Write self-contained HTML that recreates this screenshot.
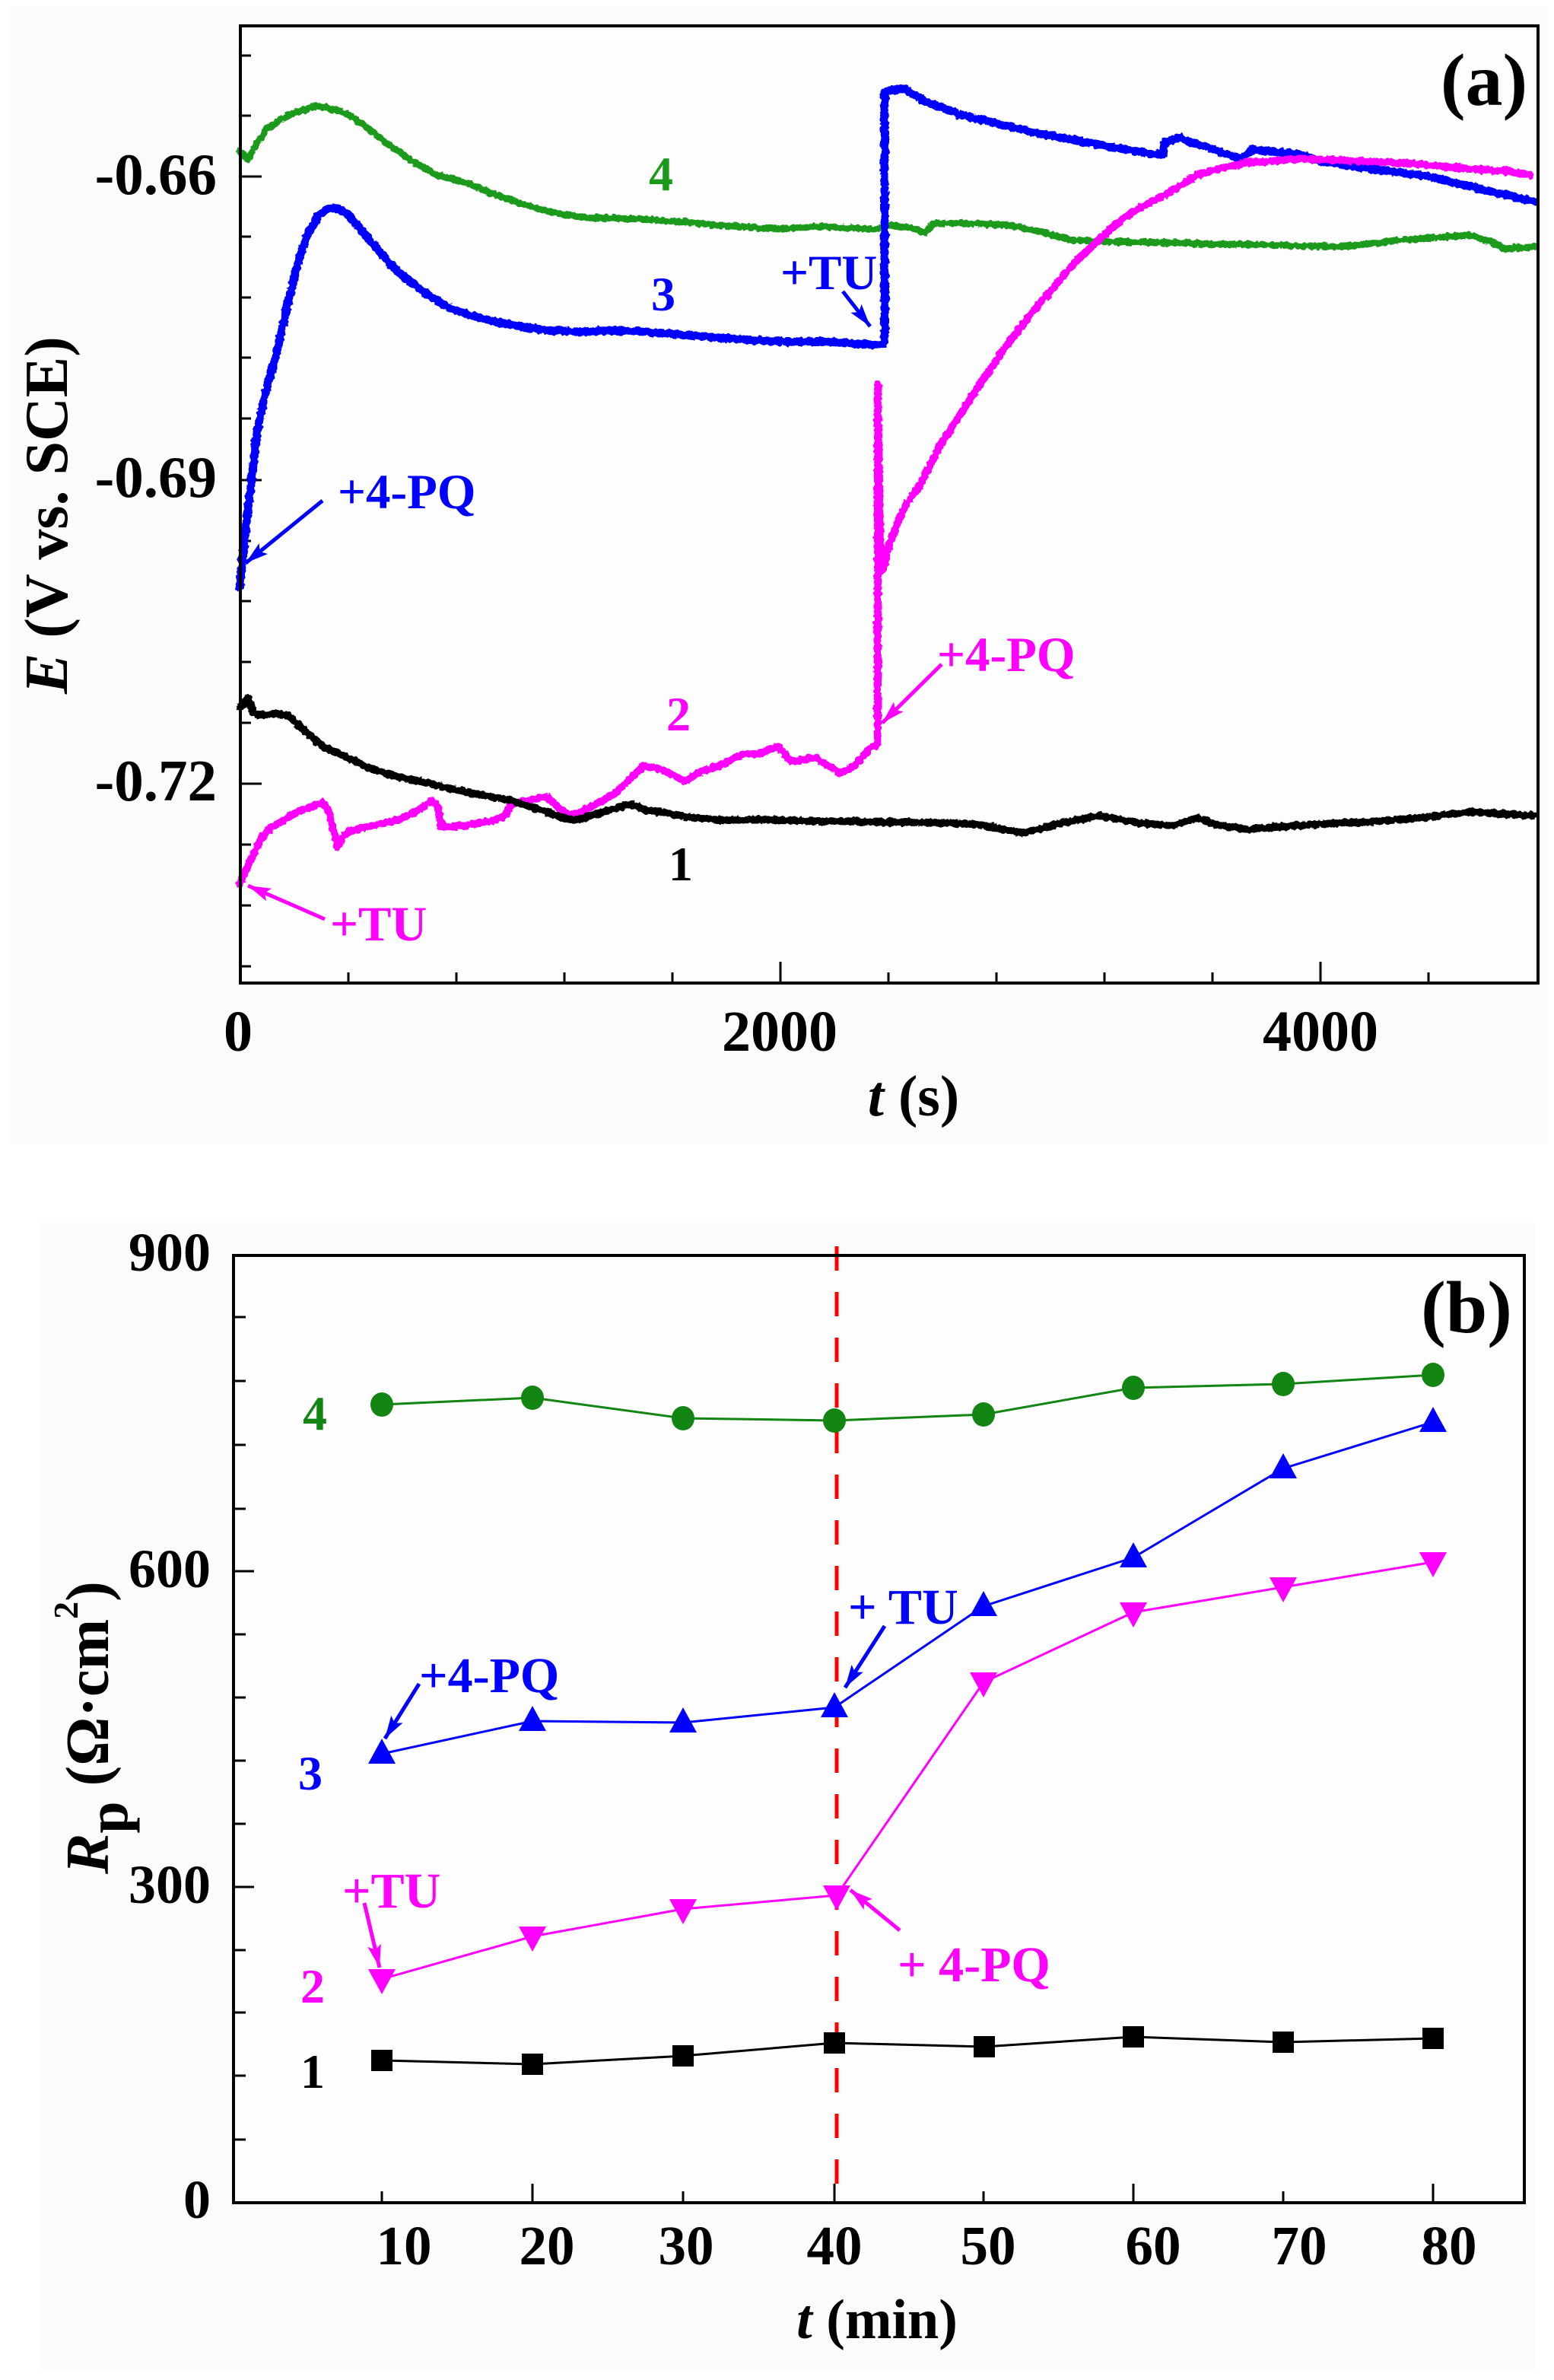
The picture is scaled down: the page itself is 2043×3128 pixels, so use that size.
<!DOCTYPE html>
<html><head><meta charset="utf-8">
<style>
html,body{margin:0;padding:0;background:#fff;}
svg{display:block;}
text{font-family:"Liberation Serif","DejaVu Serif",serif;font-weight:bold;}
</style></head>
<body>
<svg width="2043" height="3128" viewBox="0 0 2043 3128" xmlns="http://www.w3.org/2000/svg">
<defs>
<filter id="nz" filterUnits="userSpaceOnUse" x="0" y="0" width="2043" height="1400">
<feTurbulence type="fractalNoise" baseFrequency="0.18" numOctaves="2" seed="4" result="t"/>
<feDisplacementMap in="SourceGraphic" in2="t" scale="6" xChannelSelector="R" yChannelSelector="G"/>
</filter>
<marker id="ab" markerUnits="userSpaceOnUse" markerWidth="32" markerHeight="20" refX="30" refY="9" orient="auto"><path d="M0,0 L30,9 L0,18 L6,9 z" fill="#0000ff"/></marker>
<marker id="am" markerUnits="userSpaceOnUse" markerWidth="32" markerHeight="20" refX="30" refY="9" orient="auto"><path d="M0,0 L30,9 L0,18 L6,9 z" fill="#ff00ff"/></marker>
</defs>

<!-- backgrounds -->
<rect x="13" y="8" width="2022" height="1495" fill="#fbfbfc"/>
<rect x="52" y="1607" width="1966" height="1508" fill="#fbfbfc"/>
<rect x="316" y="34" width="1706" height="1258" fill="#fdfdfd"/>
<rect x="307" y="1650" width="1697" height="1245" fill="#fdfdfd"/>

<!-- ================= PANEL A ================= -->
<g stroke="#000" stroke-width="3">
<line x1="316" y1="232" x2="344" y2="232"/><line x1="316" y1="631" x2="344" y2="631"/><line x1="316" y1="1030" x2="344" y2="1030"/>
<line x1="316" y1="73" x2="330" y2="73"/><line x1="316" y1="152" x2="330" y2="152"/>
<line x1="316" y1="311" x2="330" y2="311"/><line x1="316" y1="391" x2="330" y2="391"/><line x1="316" y1="470" x2="330" y2="470"/><line x1="316" y1="550" x2="330" y2="550"/>
<line x1="316" y1="711" x2="330" y2="711"/><line x1="316" y1="790" x2="330" y2="790"/><line x1="316" y1="870" x2="330" y2="870"/><line x1="316" y1="950" x2="330" y2="950"/>
<line x1="316" y1="1110" x2="330" y2="1110"/><line x1="316" y1="1190" x2="330" y2="1190"/><line x1="316" y1="1270" x2="330" y2="1270"/>
<line x1="458" y1="1292" x2="458" y2="1278"/><line x1="600" y1="1292" x2="600" y2="1278"/><line x1="742" y1="1292" x2="742" y2="1278"/><line x1="884" y1="1292" x2="884" y2="1278"/>
<line x1="1026" y1="1292" x2="1026" y2="1264"/>
<line x1="1168" y1="1292" x2="1168" y2="1278"/><line x1="1310" y1="1292" x2="1310" y2="1278"/><line x1="1452" y1="1292" x2="1452" y2="1278"/><line x1="1594" y1="1292" x2="1594" y2="1278"/>
<line x1="1736" y1="1292" x2="1736" y2="1264"/>
<line x1="1878" y1="1292" x2="1878" y2="1278"/>
</g>

<g fill="none" stroke-linejoin="round" stroke-linecap="round" filter="url(#nz)">
<polyline stroke="#1a9a1a" stroke-width="9" points="315,199 326,209 340,185 352,168 365,160 375,153 395,146 417,139 437,144 457,150 480,165 509,189 540,210 574,230 613,240 650,255 691,270 730,280 770,286 848,288 900,292 946,296 1023,301 1080,298 1150,301 1170,296 1200,300 1216,306 1229,293 1280,294 1327,296 1370,305 1411,316 1480,318 1542,319 1600,321 1646,321 1700,323 1770,324 1835,316 1890,312 1933,309 1960,318 1979,327 2018,324"/>
<polyline stroke="#0000ff" stroke-width="11" points="315,771 327,660 339,561 352,505 365,459 378,400 391,347 404,310 417,286 428,276 440,273 450,277 457,281 475,302 496,327 515,349 535,367 560,386 587,403 620,415 652,423 690,430 718,434 760,436 800,434 848,436 900,440 946,444 1023,449 1085,449 1130,452 1160,453 1163,449 1163,122 1175,118 1190,117 1200,124 1216,133 1260,150 1313,163 1360,174 1411,184 1470,195 1529,204 1532,186 1552,181 1570,188 1594,196 1620,205 1633,209 1646,196 1670,199 1705,202 1737,212 1800,222 1868,230 1900,237 1933,245 1970,254 2018,265"/>
<polyline stroke="#ff00ff" stroke-width="10" points="315,1162 325,1140 333,1123 345,1100 355,1088 370,1080 391,1067 410,1060 424,1055 432,1065 437,1088 444,1113 450,1100 457,1093 490,1085 522,1078 545,1068 567,1052 575,1060 581,1088 600,1086 620,1083 652,1078 665,1070 672,1057 695,1052 718,1047 735,1062 750,1072 765,1066 783,1057 809,1042 830,1022 848,1006 865,1010 881,1016 900,1027 920,1015 946,1006 978,991 1000,990 1023,981 1040,1001 1072,996 1105,1016 1124,1006 1144,983 1154,978 1154,505 1157,700 1160,750 1168,720 1177,694 1190,665 1209,638 1235,587 1268,536 1295,495 1320,459 1359,408 1385,378 1411,347 1445,315 1477,286 1510,267 1542,250 1574,230 1605,221 1640,214 1705,209 1750,210 1803,212 1870,216 1933,222 1980,225 2011,230"/>
<polyline stroke="#000" stroke-width="10" points="315,930 320,925 326,917 332,935 339,940 360,938 378,940 400,960 424,981 455,995 489,1011 520,1020 554,1027 590,1036 620,1042 650,1048 672,1052 695,1060 718,1067 740,1075 757,1078 790,1068 828,1057 850,1065 868,1067 900,1073 946,1078 1000,1077 1023,1078 1080,1079 1150,1080 1220,1081 1281,1083 1320,1090 1346,1095 1390,1083 1444,1072 1500,1082 1542,1085 1574,1075 1600,1084 1640,1090 1690,1086 1737,1083 1800,1080 1868,1075 1933,1067 1980,1070 2018,1072"/>
</g>

<rect x="316" y="34" width="1706" height="1258" fill="none" stroke="#000" stroke-width="4"/>

<g font-size="77" fill="#000" text-anchor="end">
<text x="285" y="255">-0.66</text>
<text x="285" y="653">-0.69</text>
<text x="285" y="1052">-0.72</text>
</g>
<g font-size="76" fill="#000" text-anchor="middle">
<text x="313" y="1381">0</text>
<text x="1025" y="1381">2000</text>
<text x="1736" y="1381">4000</text>
<text x="1201" y="1466"><tspan font-style="italic">t</tspan> (s)</text>
</g>
<text transform="translate(88,912) rotate(-90)" font-size="80" fill="#000"><tspan font-style="italic">E</tspan> (V vs. SCE)</text>
<text x="1951" y="138" font-size="98" text-anchor="middle" fill="#000">(a)</text>

<g font-size="64" text-anchor="middle">
<text x="869" y="250" fill="#1a9a1a">4</text>
<text x="872" y="408" fill="#0000ff">3</text>
<text x="892" y="960" fill="#ff00ff">2</text>
<text x="895" y="1157" fill="#000">1</text>
</g>
<g font-size="65">
<text x="1026" y="380" fill="#0000ff">+TU</text>
<text x="444" y="668" fill="#0000ff">+4-PQ</text>
<text x="434" y="1236" fill="#ff00ff">+TU</text>
<text x="1232" y="882" fill="#ff00ff">+4-PQ</text>
</g>
<g stroke-width="5" fill="none">
<line x1="1108" y1="383" x2="1144" y2="429" stroke="#0000ff" marker-end="url(#ab)"/>
<line x1="424" y1="658" x2="323" y2="740" stroke="#0000ff" marker-end="url(#ab)"/>
<line x1="427" y1="1208" x2="326" y2="1164" stroke="#ff00ff" marker-end="url(#am)"/>
<line x1="1238" y1="873" x2="1160" y2="950" stroke="#ff00ff" marker-end="url(#am)"/>
</g>

<!-- ================= PANEL B ================= -->
<g stroke="#000" stroke-width="3">
<line x1="307" y1="2065" x2="334" y2="2065"/><line x1="307" y1="2480" x2="334" y2="2480"/>
<line x1="307" y1="1731" x2="323" y2="1731"/><line x1="307" y1="1815" x2="323" y2="1815"/><line x1="307" y1="1899" x2="323" y2="1899"/><line x1="307" y1="1983" x2="323" y2="1983"/>
<line x1="307" y1="2148" x2="323" y2="2148"/><line x1="307" y1="2231" x2="323" y2="2231"/><line x1="307" y1="2314" x2="323" y2="2314"/><line x1="307" y1="2397" x2="323" y2="2397"/>
<line x1="307" y1="2563" x2="323" y2="2563"/><line x1="307" y1="2645" x2="323" y2="2645"/><line x1="307" y1="2728" x2="323" y2="2728"/><line x1="307" y1="2812" x2="323" y2="2812"/>
<line x1="502" y1="2895" x2="502" y2="2880"/><line x1="700" y1="2895" x2="700" y2="2870"/><line x1="898" y1="2895" x2="898" y2="2880"/><line x1="1097" y1="2895" x2="1097" y2="2870"/>
<line x1="1293" y1="2895" x2="1293" y2="2880"/><line x1="1490" y1="2895" x2="1490" y2="2870"/><line x1="1687" y1="2895" x2="1687" y2="2880"/><line x1="1884" y1="2895" x2="1884" y2="2870"/>
</g>

<g fill="none" stroke-width="3">
<polyline stroke="#128512" points="502,1846 700,1837 898,1864 1097,1867 1293,1859 1490,1824 1687,1819 1884,1807"/>
<polyline stroke="#0000ff" points="502,2305 700,2262 898,2264 1097,2244 1293,2111 1490,2047 1687,1930 1884,1869"/>
<polyline stroke="#ff00ff" points="502,2601 700,2545 898,2509 1100,2491 1293,2211 1490,2119 1687,2086 1884,2053"/>
<polyline stroke="#000" points="502,2708 700,2713 898,2702 1097,2685 1294,2690 1490,2677 1687,2684 1884,2679"/>
</g>

<line x1="1100" y1="1638" x2="1100" y2="2895" stroke="#ff0000" stroke-width="5" stroke-dasharray="32 28"/>

<g fill="#128512">
<ellipse cx="502" cy="1846" rx="15" ry="16"/><ellipse cx="700" cy="1837" rx="15" ry="16"/><ellipse cx="898" cy="1864" rx="15" ry="16"/><ellipse cx="1097" cy="1867" rx="15" ry="16"/>
<ellipse cx="1293" cy="1859" rx="15" ry="16"/><ellipse cx="1490" cy="1824" rx="15" ry="16"/><ellipse cx="1687" cy="1819" rx="15" ry="16"/><ellipse cx="1884" cy="1807" rx="15" ry="16"/>
</g>
<g fill="#0000ff">
<polygon points="502,2285 484,2318 520,2318"/><polygon points="700,2242 682,2275 718,2275"/><polygon points="898,2244 880,2277 916,2277"/><polygon points="1097,2224 1079,2257 1115,2257"/>
<polygon points="1293,2091 1275,2124 1311,2124"/><polygon points="1490,2027 1472,2060 1508,2060"/><polygon points="1687,1910 1669,1943 1705,1943"/><polygon points="1884,1849 1866,1882 1902,1882"/>
</g>
<g fill="#ff00ff">
<polygon points="484,2588 520,2588 502,2621"/><polygon points="682,2532 718,2532 700,2565"/><polygon points="880,2496 916,2496 898,2529"/><polygon points="1082,2478 1118,2478 1100,2511"/>
<polygon points="1275,2198 1311,2198 1293,2231"/><polygon points="1472,2106 1508,2106 1490,2139"/><polygon points="1669,2073 1705,2073 1687,2106"/><polygon points="1866,2040 1902,2040 1884,2073"/>
</g>
<g fill="#000">
<rect x="488" y="2694" width="28" height="28"/><rect x="686" y="2699" width="28" height="28"/><rect x="884" y="2688" width="28" height="28"/><rect x="1083" y="2671" width="28" height="28"/>
<rect x="1280" y="2676" width="28" height="28"/><rect x="1476" y="2663" width="28" height="28"/><rect x="1673" y="2670" width="28" height="28"/><rect x="1870" y="2665" width="28" height="28"/>
</g>

<rect x="307" y="1650" width="1697" height="1245" fill="none" stroke="#000" stroke-width="4"/>

<g font-size="72" fill="#000" text-anchor="end">
<text x="277" y="1670">900</text>
<text x="277" y="2086">600</text>
<text x="277" y="2501">300</text>
<text x="277" y="2915">0</text>
</g>
<g font-size="73" fill="#000" text-anchor="middle">
<text x="531" y="2976">10</text>
<text x="719" y="2976">20</text>
<text x="902" y="2976">30</text>
<text x="1097" y="2976">40</text>
<text x="1299" y="2976">50</text>
<text x="1516" y="2976">60</text>
<text x="1708" y="2976">70</text>
<text x="1905" y="2976">80</text>
</g>
<text x="1153" y="3073" font-size="74" text-anchor="middle" fill="#000"><tspan font-style="italic">t</tspan> (min)</text>
<text transform="translate(142,2463) rotate(-90)" font-size="80" fill="#000"><tspan font-style="italic">R</tspan><tspan font-size="76" dy="25">p</tspan><tspan dy="-25"> (Ω·cm</tspan><tspan font-size="46" dy="-40">2</tspan><tspan dy="40">)</tspan></text>
<text x="1928" y="1751" font-size="98" text-anchor="middle" fill="#000">(b)</text>

<g font-size="64" text-anchor="middle">
<text x="414" y="1879" fill="#128512">4</text>
<text x="408" y="2352" fill="#0000ff">3</text>
<text x="411" y="2632" fill="#ff00ff">2</text>
<text x="411" y="2744" fill="#000">1</text>
</g>
<g font-size="66">
<text x="551" y="2224" fill="#0000ff">+4-PQ</text>
<text x="1115" y="2134" fill="#0000ff">+ TU</text>
<text x="450" y="2507" fill="#ff00ff">+TU</text>
<text x="1180" y="2604" fill="#ff00ff">+ 4-PQ</text>
</g>
<g stroke-width="5" fill="none">
<line x1="551" y1="2213" x2="506" y2="2285" stroke="#0000ff" marker-end="url(#ab)"/>
<line x1="1163" y1="2137" x2="1111" y2="2218" stroke="#0000ff" marker-end="url(#ab)"/>
<line x1="479" y1="2501" x2="499" y2="2586" stroke="#ff00ff" marker-end="url(#am)"/>
<line x1="1183" y1="2537" x2="1118" y2="2484" stroke="#ff00ff" marker-end="url(#am)"/>
</g>
</svg>
</body></html>
